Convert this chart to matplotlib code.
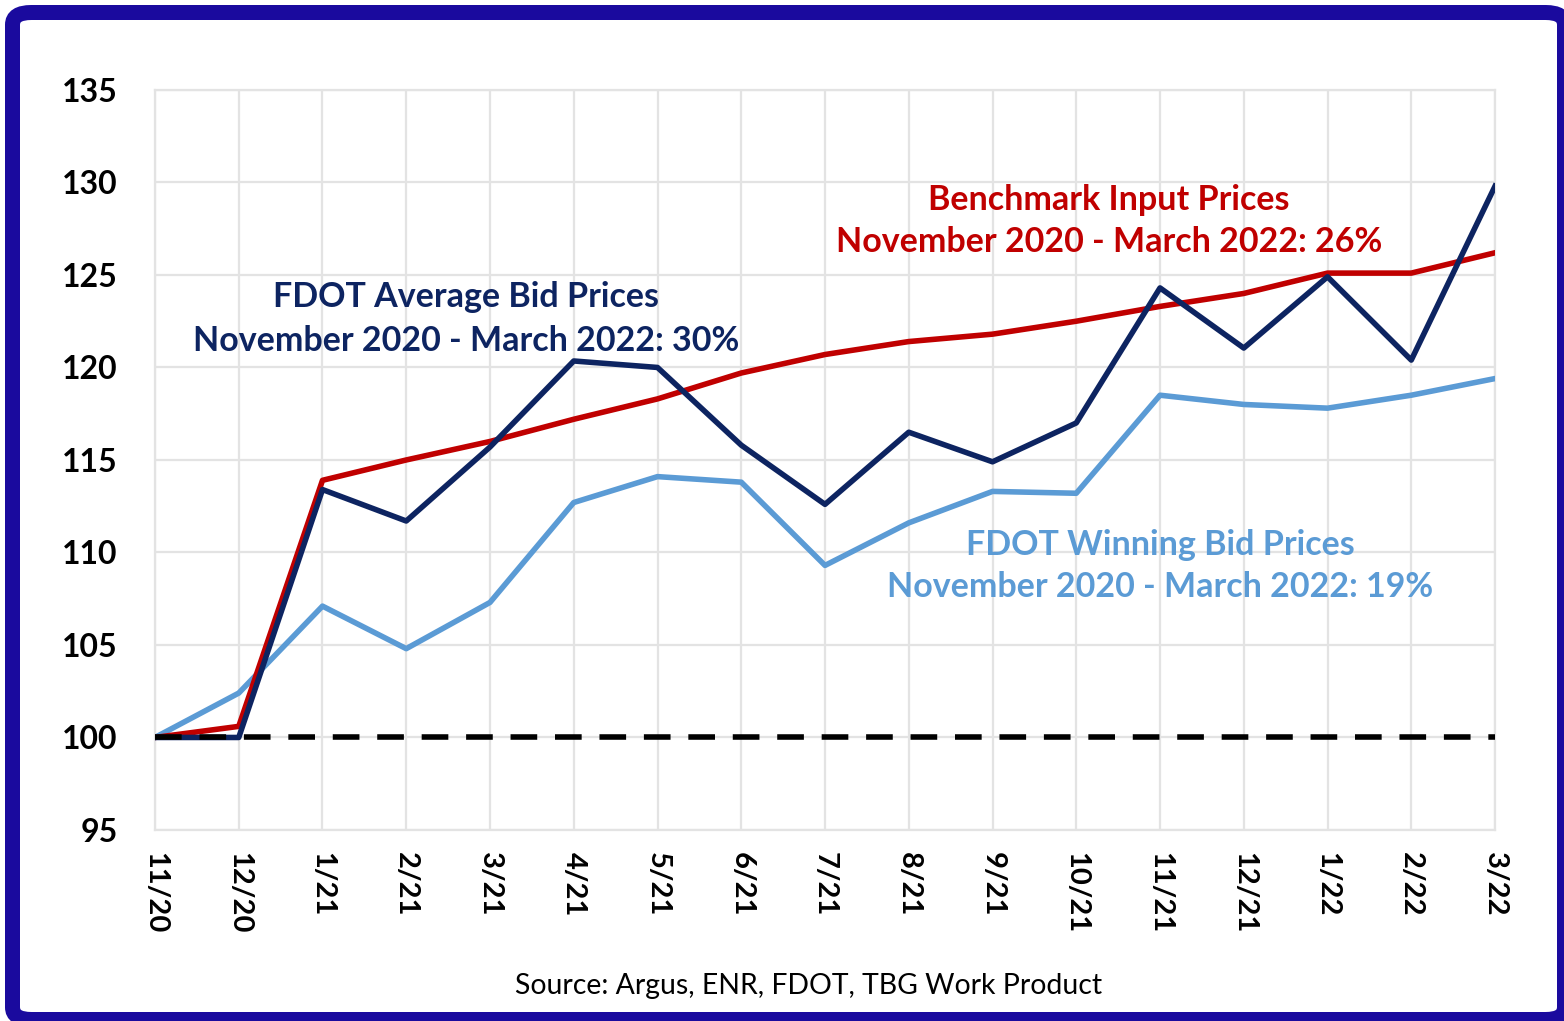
import numpy as np
import matplotlib
matplotlib.use('Agg')
import matplotlib.pyplot as plt
from matplotlib.patches import FancyBboxPatch

# ---- data (index, Nov 2020 = 100) ----
MONTHS = ['11/20', '12/20', '1/21', '2/21', '3/21', '4/21', '5/21', '6/21', '7/21',
          '8/21', '9/21', '10/21', '11/21', '12/21', '1/22', '2/22', '3/22']
avg_bid = [100, 100, 113.4, 111.7, 115.7, 120.35, 120.0, 115.8, 112.6,
           116.5, 114.9, 117.0, 124.3, 121.05, 124.9, 120.4, 129.8]
benchmark = [100, 100.6, 113.9, 115.0, 116.0, 117.2, 118.3, 119.7, 120.7,
             121.4, 121.8, 122.5, 123.3, 124.0, 125.1, 125.1, 126.2]
winning_bid = [100, 102.4, 107.1, 104.8, 107.3, 112.7, 114.1, 113.8, 109.3,
               111.6, 113.3, 113.2, 118.5, 118.0, 117.8, 118.5, 119.4]
YTICKS = [95, 100, 105, 110, 115, 120, 125, 130, 135]

NAVY, RED, LIGHT = '#0D2461', '#C00000', '#5B9BD5'
GRID = '#E3E3E3'
FRAME = '#1A0A9E'

plt.rcParams['font.family'] = ['Lato', 'DejaVu Sans']

fig = plt.figure(figsize=(15.64, 10.21), dpi=100)
ax = fig.add_axes([0.0991, 0.1871, 0.8568, 0.7248])

x = np.arange(len(MONTHS))
lw = 4.0
ax.plot(x, winning_bid, color=LIGHT, lw=lw, zorder=3)
ax.plot(x, benchmark, color=RED, lw=lw, zorder=4)
ax.plot(x, avg_bid, color=NAVY, lw=lw, zorder=5)
ax.plot(x, [100] * len(x), color='black', lw=lw, ls=(0, (4.8, 3.2)), zorder=6)

ax.set_xlim(0, len(MONTHS) - 1)
ax.set_ylim(95, 135)
ax.set_xticks(x)
ax.set_xticklabels(MONTHS, rotation=270, fontsize=21, fontweight='bold', va='top')
ax.set_yticks(YTICKS)
ax.set_yticklabels([str(v) for v in YTICKS], fontsize=23, fontweight='bold')
ax.tick_params(axis='both', length=0)
ax.tick_params(axis='x', pad=16)
ax.tick_params(axis='y', pad=27)
ax.grid(True, color=GRID, lw=1.6, zorder=0)
ax.set_axisbelow(True)
for s in ax.spines.values():
    s.set_color(GRID)
    s.set_linewidth(1.6)

# ---- annotations ----
kw = dict(transform=ax.transData, ha='center', va='center', fontsize=24.5, fontweight='bold')
ax.text(3.71, 123.8, 'FDOT Average Bid Prices', color=NAVY, **kw)
ax.text(3.71, 121.45, 'November 2020 - March 2022: 30%', color=NAVY, **kw)
ax.text(11.39, 129.05, 'Benchmark Input Prices', color=RED, **kw)
ax.text(11.39, 126.8, 'November 2020 - March 2022: 26%', color=RED, **kw)
ax.text(12.0, 110.4, 'FDOT Winning Bid Prices', color=LIGHT, **kw)
ax.text(12.0, 108.15, 'November 2020 - March 2022: 19%', color=LIGHT, **kw)

fig.text(809 / 1564, 1 - 986 / 1021, 'Source: Argus, ENR, FDOT, TBG Work Product',
         ha='center', va='center', fontsize=20.4, color='black')

# blue rounded frame around the whole slide
frame = FancyBboxPatch((12.5 / 1564, 1.5 / 1021), (1564.5 - 12.5) / 1564, (1019.5 - 12.5) / 1021,
                       boxstyle='round,pad=0,rounding_size=0.012', transform=fig.transFigure,
                       facecolor='none', edgecolor=FRAME, lw=10.8, clip_on=False)
fig.patches.append(frame)

fig.savefig('out.png', dpi=100)
